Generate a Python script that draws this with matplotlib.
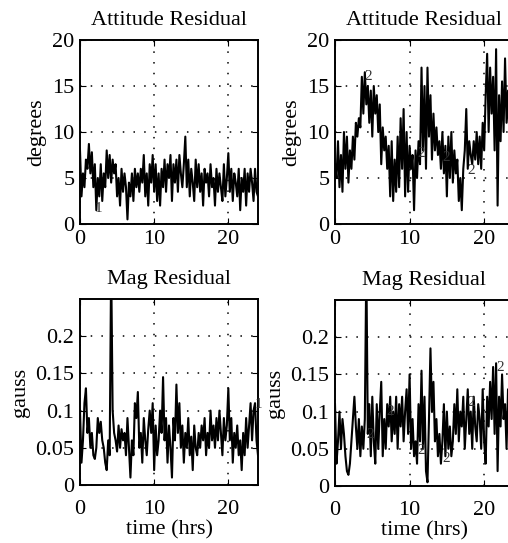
import numpy as np
import matplotlib
matplotlib.use("Agg")
import matplotlib.pyplot as plt

plt.rcParams['font.family'] = ['Liberation Serif', 'DejaVu Serif']
plt.rcParams['font.size'] = 16

# time axis, hours (0.2 hr samples)
t = np.linspace(0, 24, 121)

# attitude residual, camera 1 (degrees)
att1 = [8.0, 3.0, 5.5, 4.0, 7.0, 6.0, 8.7, 5.5, 7.8, 4.0,
        6.5, 1.5, 5.0, 3.0, 6.5, 2.5, 5.5, 4.0, 8.0, 5.0,
        7.5, 4.5, 7.0, 5.5, 6.5, 3.0, 5.0, 2.0, 6.0, 3.5,
        5.5, 4.0, 0.5, 4.5, 3.0, 5.5, 2.5, 6.0, 4.0, 5.5,
        3.5, 6.0, 4.5, 7.5, 3.0, 5.5, 2.0, 6.5, 4.5, 7.5,
        3.5, 6.5, 2.5, 5.5, 2.0, 6.0, 4.0, 7.0, 3.5, 6.5,
        5.0, 7.5, 2.5, 6.5, 4.5, 7.0, 3.5, 7.5, 5.5, 4.0,
        6.5, 9.5, 4.0, 7.0, 3.0, 6.0, 4.5, 2.5, 7.0, 4.0,
        6.5, 3.5, 5.5, 2.0, 6.0, 4.5, 5.5, 3.0, 6.5, 4.0,
        5.0, 2.0, 6.0, 3.5, 5.5, 4.0, 2.5, 6.5, 3.0, 5.0,
        7.7, 3.5, 6.0, 2.5, 5.5, 4.5, 3.0, 6.0, 1.5, 5.0,
        3.5, 6.0, 2.0, 5.5, 3.5, 6.0, 4.5, 2.5, 6.0, 3.5,
        3.0]

# attitude residual, camera 2 (degrees)
att2 = [6.5, 5.0, 9.0, 4.0, 7.5, 3.5, 10.0, 6.0, 9.5, 4.5,
        8.0, 6.0, 9.5, 7.0, 11.0, 9.5, 11.5, 10.5, 16.0, 12.0,
        16.5, 13.0, 15.0, 11.0, 14.5, 9.5, 15.0, 12.0, 14.0, 10.0,
        13.0, 6.5, 10.5, 8.0, 9.5, 6.0, 8.5, 3.0, 9.0, 2.5,
        7.0, 3.5, 9.5, 4.0, 11.5, 6.0, 12.5, 3.0, 10.0, 3.5,
        8.5, 6.0, 7.5, 1.5, 8.0, 5.0, 9.0, 6.5, 17.0, 8.0,
        15.0, 6.0, 17.0, 9.5, 14.0, 7.0, 12.0, 8.0, 10.5, 7.5,
        9.0, 6.0, 10.0, 5.5, 8.5, 3.0, 9.5, 5.0, 10.0, 4.5,
        8.0, 5.5, 7.0, 2.5, 5.0, 1.5, 6.0, 8.0, 12.5, 6.0,
        9.0, 7.5, 6.5, 9.0, 7.0, 10.0, 6.5, 9.5, 6.0, 11.0,
        8.0, 14.0, 18.5, 10.0, 17.0, 12.0, 16.0, 8.0, 19.0, 2.0,
        14.0, 9.0, 15.5, 10.0, 18.0, 11.0, 14.5, 9.0, 13.0, 10.0,
        12.0]

# mag residual, camera 1 (gauss)
mag1 = [0.10, 0.03, 0.06, 0.11, 0.13, 0.07, 0.09, 0.05, 0.07, 0.04,
        0.035, 0.05, 0.09, 0.07, 0.085, 0.06, 0.05, 0.03, 0.02, 0.06,
        0.04, 0.30, 0.10, 0.07, 0.06, 0.045, 0.08, 0.05, 0.075, 0.06,
        0.07, 0.04, 0.09, 0.05, 0.01, 0.06, 0.04, 0.11, 0.09, 0.125,
        0.05, 0.07, 0.03, 0.09, 0.06, 0.04, 0.075, 0.10, 0.07, 0.11,
        0.02, 0.08, 0.04, 0.06, 0.10, 0.07, 0.145, 0.06, 0.09, 0.03,
        0.08, 0.05, 0.01, 0.09, 0.06, 0.135, 0.07, 0.11, 0.05, 0.08,
        0.03, 0.07, 0.05, 0.09, 0.04, 0.065, 0.02, 0.08, 0.05, 0.04,
        0.07, 0.05, 0.08, 0.06, 0.09, 0.04, 0.07, 0.05, 0.10, 0.06,
        0.08, 0.05, 0.09, 0.06, 0.10, 0.07, 0.04, 0.09, 0.06, 0.08,
        0.13, 0.06, 0.09, 0.03, 0.07, 0.05, 0.08, 0.04, 0.06, 0.02,
        0.07, 0.04, 0.09, 0.05, 0.08, 0.11, 0.06, 0.10, 0.11, 0.06,
        0.04]

# mag residual, camera 2 (gauss)
mag2 = [0.11, 0.03, 0.06, 0.10, 0.05, 0.09, 0.07, 0.04, 0.02, 0.015,
        0.03, 0.06, 0.09, 0.12, 0.08, 0.05, 0.09, 0.04, 0.08, 0.05,
        0.09, 0.30, 0.07, 0.11, 0.04, 0.12, 0.06, 0.03, 0.11, 0.05,
        0.10, 0.14, 0.04, 0.09, 0.05, 0.11, 0.08, 0.12, 0.06, 0.10,
        0.07, 0.12, 0.05, 0.11, 0.08, 0.12, 0.06, 0.10, 0.13, 0.07,
        0.15, 0.05, 0.09, 0.04, 0.06, 0.03, 0.11, 0.06, 0.155, 0.05,
        0.12, 0.02, 0.005, 0.09, 0.185, 0.10, 0.14, 0.06, 0.09, 0.04,
        0.07, 0.03, 0.06, 0.11, 0.04, 0.10, 0.05, 0.08, 0.04, 0.06,
        0.11, 0.07, 0.13, 0.06, 0.10, 0.08, 0.12, 0.05, 0.09, 0.13,
        0.07, 0.10, 0.05, 0.12, 0.08, 0.06, 0.11, 0.09, 0.05, 0.13,
        0.06, 0.03, 0.12, 0.08, 0.14, 0.09, 0.16, 0.07, 0.165, 0.02,
        0.12, 0.08, 0.15, 0.09, 0.11, 0.05, 0.13, 0.07, 0.10, 0.08,
        0.09]

# curve labels written on the traces: (x, y, text)
att1_tags = [(2.0, 1.3, '1')]
att2_tags = [(3.9, 15.6, '2'), (11.0, 7.3, '2'), (14.4, 6.9, '2'), (17.8, 5.4, '2')]
mag1_tags = [(23.6, 0.103, '1')]
mag2_tags = [(4.2, 0.065, '2'), (6.9, 0.095, '2'), (11.0, 0.043, '2'),
             (14.4, 0.032, '2'), (17.8, 0.107, '2'), (21.7, 0.155, '2')]

att_ticks = [0, 5, 10, 15, 20]
mag_ticks = [0, 0.05, 0.1, 0.15, 0.2]
mag_ticklabels = ['0', '0.05', '0.1', '0.15', '0.2']
x_ticks = [0, 10, 20]

W, H = 508, 543
fig = plt.figure(figsize=(W / 100, H / 100), dpi=100)


def px_axes(left, top, right, bottom):
    return fig.add_axes([left / W, 1 - bottom / H, (right - left) / W, (bottom - top) / H])


def style(ax, ylim, yticks, ylabel, title, yticklabels=None, xlabel=None):
    ax.set_xlim(0, 24)
    ax.set_ylim(*ylim)
    ax.set_xticks(x_ticks)
    ax.set_yticks(yticks)
    if yticklabels is not None:
        ax.set_yticklabels(yticklabels)
    ax.tick_params(direction='in', length=4, width=0.8, pad=4, labelsize=16,
                   top=True, right=True)
    if xlabel:
        ax.tick_params(axis='x', pad=11)
    ax.grid(True, color='black', linestyle=(0, (1, 6)), linewidth=1.1)
    for s in ax.spines.values():
        s.set_linewidth(1.4)
    ax.set_ylabel(ylabel, fontsize=16, labelpad=4)
    ax.set_title(title, fontsize=16, pad=11)
    if xlabel:
        ax.set_xlabel(xlabel, fontsize=16, labelpad=1)


panels = [
    ((80, 40, 258, 224), att1, att1_tags, (0, 20), att_ticks, None, 'degrees', 'Attitude Residual', None),
    ((335, 40, 514, 224), att2, att2_tags, (0, 20), att_ticks, None, 'degrees', 'Attitude Residual', None),
    ((80, 299, 258, 485), mag1, mag1_tags, (0, 0.25), mag_ticks, mag_ticklabels, 'gauss', 'Mag Residual', 'time (hrs)'),
    ((335, 300, 514, 486), mag2, mag2_tags, (0, 0.25), mag_ticks, mag_ticklabels, 'gauss', 'Mag Residual', 'time (hrs)'),
]

for box, y, tags, ylim, yt, ytl, ylab, ttl, xlab in panels:
    ax = px_axes(*box)
    ax.plot(t, y, color='black', linewidth=1.5)
    for tx, ty, s in tags:
        ax.text(tx, ty, s, fontsize=11, color='#333333')
    style(ax, ylim, yt, ylab, ttl, ytl, xlab)

fig.savefig('out.png', dpi=100)
